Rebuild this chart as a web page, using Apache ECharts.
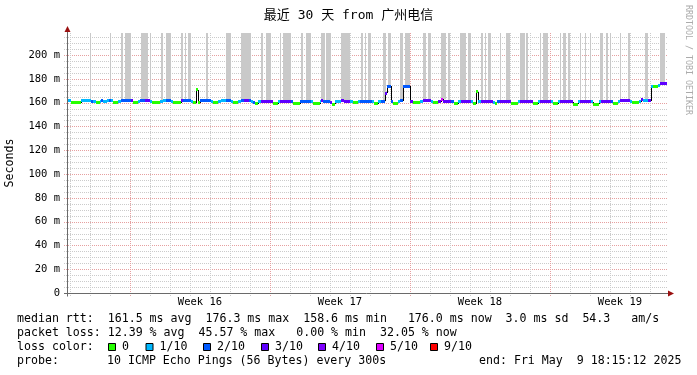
<!DOCTYPE html>
<html><head><meta charset="utf-8">
<script src="https://cdn.jsdelivr.net/npm/echarts@6/dist/echarts.min.js"></script>
<style>html,body{margin:0;padding:0;background:#fff}#c{width:697px;height:375px}</style>
</head><body><div id="c"></div>
<script>
// ---------------- data ----------------
const chartTitle = '最近 30 天 from 广州电信';
const yAxisName = 'Seconds';
const sideText = 'RRDTOOL / TOBI OETIKER';
const xMaxDays = 30;
const yMaxMs = 218.5;
const yLabelStep = 20;
const yMinorStep = 5;
const firstDayLine = 0.15;            // first midnight grid line (days from start)
const weekLines = [3.15, 10.15, 17.15, 24.15];
const weekLabelPos = [6.65, 13.65, 20.65, 27.65];
const weekLabels = ['Week 16', 'Week 17', 'Week 18', 'Week 19'];

// median rtt (ms) as steps: start (days from start), value, lost pings out of 10
const medStart = [0,0.2,0.7,1.2,1.3,1.45,1.65,1.7,1.8,2.0,2.1,2.2,2.3,2.55,2.7,3.2,3.3,3.55,3.65,3.9,4.15,4.25,4.65,4.8,4.95,5.2,5.3,5.7,5.8,6.2,6.3,6.45,6.55,6.65,7.2,7.3,7.55,7.7,7.95,8.2,8.3,8.55,8.7,8.85,9.1,9.2,9.3,9.4,9.55,9.7,10.3,10.55,10.65,11.2,11.3,11.65,12.2,12.3,12.65,12.7,12.8,13.15,13.25,13.4,13.7,13.85,14.15,14.3,14.55,14.65,15.25,15.35,15.55,15.7,15.9,16.0,16.18,16.3,16.55,16.65,16.78,17.15,17.3,17.65,17.8,18.2,18.3,18.55,18.7,18.8,19.2,19.35,19.55,19.7,20.2,20.3,20.43,20.55,20.7,21.3,21.4,21.5,21.65,22.2,22.55,22.65,23.3,23.55,23.65,24.2,24.3,24.55,24.65,25.3,25.55,25.65,26.2,26.3,26.6,26.7,27.2,27.3,27.55,27.65,28.15,28.25,28.6,28.7,28.8,29.05,29.2,29.3,29.55,29.65];
const medValue = [161.5,159.8,161.5,160.7,160.7,159.8,160.7,161.5,160.7,161.5,161.5,161.5,159.8,160.7,161.5,161.5,159.8,160.7,161.5,161.5,160.7,159.8,160.7,161.5,161.5,160.7,159.8,161.5,161.5,160.7,159.8,170.6,159.8,161.5,160.7,159.8,160.7,161.5,161.5,160.7,159.8,160.7,161.5,161.5,161.5,160.7,159.8,159.0,160.7,160.7,159.0,160.7,160.7,160.7,159.0,160.7,160.7,159.0,160.7,161.8,160.7,159.8,158.8,160.7,161.5,160.9,160.7,159.8,160.7,161.0,160.7,159.0,160.7,161.0,168.0,173.7,160.7,159.4,160.7,161.5,173.8,160.9,160.2,160.7,161.8,160.7,159.8,160.9,162.8,161.0,160.7,159.0,160.7,161.3,160.7,159.0,169.0,160.7,161.0,160.3,159.5,160.7,160.9,159.4,160.7,160.7,159.0,160.7,160.7,160.7,159.0,160.7,160.7,158.8,160.7,160.7,160.7,158.8,160.7,161.0,160.7,159.4,160.7,161.8,160.7,159.8,160.7,162.2,161.5,161.5,173.4,173.4,174.5,175.8];
const medLoss = [1,0,1,2,1,0,1,2,1,1,2,1,0,1,2,3,0,1,2,3,1,0,1,1,2,1,0,3,2,1,0,0,0,2,1,0,1,1,2,1,0,1,2,3,2,1,2,0,1,3,0,1,3,2,0,2,1,0,1,3,2,3,0,1,3,3,1,0,1,2,1,0,1,2,3,2,2,0,1,2,2,3,0,1,3,1,0,3,5,3,2,0,1,3,1,0,0,1,3,1,0,2,3,0,1,3,0,1,3,1,0,1,3,0,1,3,1,0,1,3,2,0,1,3,1,0,1,3,1,3,1,0,1,3];

// smoke (ping spread) intervals, days from start; tops exceed the axis
const smokeStart = [1.14,2.14,2.68,2.90,3.70,4.15,4.70,4.95,5.70,5.88,6.05,6.95,7.95,8.70,9.70,9.95,10.65,10.80,11.70,11.95,12.70,12.95,13.70,14.70,14.88,15.05,15.80,16.05,16.65,16.90,17.80,18.05,18.70,19.05,19.65,20.05,20.70,20.88,21.05,21.65,21.95,22.65,22.95,23.65,23.80,24.65,24.80,25.05,25.65,25.88,26.15,26.65,26.95,27.15,27.65,28.05,28.90,29.65];
const smokeEnd   = [1.19,2.19,2.80,3.18,4.05,4.19,4.80,5.20,5.78,5.97,6.20,7.05,8.18,9.20,9.80,10.18,10.70,11.20,11.80,12.18,12.92,13.18,14.15,14.80,14.95,15.18,15.97,16.20,16.80,17.17,17.95,18.20,18.95,19.15,19.95,20.20,20.80,20.97,21.20,21.70,22.15,22.90,23.05,23.70,24.05,24.70,24.95,25.15,25.70,25.93,26.20,26.80,27.05,27.20,27.70,28.15,29.05,29.90];
const smokeTopMs = 260;

// legend
const lossKeys   = [0, 1, 2, 3, 4, 5, 9];
const lossNames  = ['0', '1/10', '2/10', '3/10', '4/10', '5/10', '9/10'];
const lossColors = ['#26ff00', '#00b8ff', '#0059ff', '#5e00ff', '#7e00ff', '#dd00ff', '#ff0000'];
const rttLine   = 'median rtt:  161.5 ms avg  176.3 ms max  158.6 ms min   176.0 ms now  3.0 ms sd  54.3   am/s';
const lossLine  = 'packet loss: 12.39 % avg  45.57 % max   0.00 % min  32.05 % now';
const probeText = '10 ICMP Echo Pings (56 Bytes) every 300s';
const endText   = 'end: Fri May  9 18:15:12 2025';

// ---------------- styles / layout ----------------
const FONT = '"DejaVu Sans Mono", "Noto Sans CJK SC", monospace';
const LEG_FS = 11.6;
const AX_FS = 10.5;
const minorGridColor = '#cbcbcb';
const majorGridColor = '#e6a0a0';
const axisColor = '#6a6a6a';
const arrowColor = '#9a1010';
const smokeColor = '#c9c9c9';

function lossColor(l) { const i = lossKeys.indexOf(l); return lossColors[i < 0 ? 0 : i]; }
function medianAt(t) { let v = medValue[0]; for (let i = 0; i < medStart.length; i++) { if (medStart[i] <= t) v = medValue[i]; } return v; }

const medData = medStart.map((s, i) => [s, i < medStart.length - 1 ? medStart[i + 1] : xMaxDays, medValue[i], medLoss[i]]);
const connData = medStart.slice(1).map((s, i) => [s, medValue[i], medValue[i + 1]]);
const smokeData = smokeStart.map((s, i) => [s, smokeEnd[i], medianAt(s), smokeTopMs]);

const dayLines = [];
for (let d = firstDayLine; d < xMaxDays; d += 1) dayLines.push(+d.toFixed(2));

function csRect(p) { const c = p.coordSys; return { x: c.x, y: c.y, width: c.width, height: c.height }; }

function renderGrid(params, api) {
  const c = csRect(params);
  const ch = [];
  const bottom = c.y + c.height;
  for (let v = yMinorStep; v < yMaxMs; v += yMinorStep) {
    const y = Math.round(api.coord([0, v])[1]) + 0.5;
    const major = (v % yLabelStep === 0);
    ch.push({ type: 'line', shape: { x1: c.x - 3, y1: y, x2: c.x + c.width, y2: y },
      style: { stroke: major ? majorGridColor : minorGridColor, lineWidth: 1, lineDash: [1, 1] } });
  }
  dayLines.forEach(d => {
    const major = weekLines.some(w => Math.abs(w - d) < 1e-6);
    const x = Math.round(api.coord([d, 0])[0]) + 0.5;
    ch.push({ type: 'line', shape: { x1: x, y1: c.y, x2: x, y2: bottom + 3 },
      style: { stroke: major ? majorGridColor : minorGridColor, lineWidth: 1, lineDash: [1, 1] } });
  });
  return { type: 'group', children: ch };
}

function renderAxes(params, api) {
  const c = csRect(params);
  const ch = [];
  const x0 = Math.round(c.x) + 0.5;
  const y0 = Math.round(c.y + c.height) + 0.5;
  const right = c.x + c.width;
  ch.push({ type: 'line', shape: { x1: x0, y1: y0 + 3, x2: x0, y2: c.y - 2 }, style: { stroke: axisColor, lineWidth: 1 } });
  ch.push({ type: 'line', shape: { x1: c.x - 3, y1: y0, x2: right + 2, y2: y0 }, style: { stroke: axisColor, lineWidth: 1 } });
  ch.push({ type: 'polygon', shape: { points: [[x0, c.y - 7], [x0 - 3, c.y - 1], [x0 + 3, c.y - 1]] }, style: { fill: arrowColor } });
  ch.push({ type: 'polygon', shape: { points: [[right + 7, y0], [right + 1, y0 - 3], [right + 1, y0 + 3]] }, style: { fill: arrowColor } });
  return { type: 'group', children: ch };
}

function renderSmoke(params, api) {
  const c = csRect(params);
  const p0 = api.coord([api.value(0), api.value(2)]);
  const p1 = api.coord([api.value(1), api.value(3)]);
  const xa = Math.round(p0[0]), xb = Math.round(p1[0]);
  const r = echarts.graphic.clipRectByRect({ x: xa, y: p1[1], width: Math.max(1, xb - xa), height: p0[1] - p1[1] }, c);
  return r ? { type: 'rect', shape: r, style: { fill: smokeColor } } : null;
}

function renderMedian(params, api) {
  const p0 = api.coord([api.value(0), api.value(2)]);
  const p1 = api.coord([api.value(1), api.value(2)]);
  const xa = Math.round(p0[0]), xb = Math.round(p1[0]);
  const y = Math.round(p0[1] - 1.5);
  return { type: 'rect', shape: { x: xa, y: y, width: Math.max(1, xb - xa), height: 3 }, style: { fill: lossColor(api.value(3)) } };
}

function renderConn(params, api) {
  const a = api.coord([api.value(0), api.value(1)]);
  const b = api.coord([api.value(0), api.value(2)]);
  const x = Math.round(a[0]) + 0.5;
  return { type: 'line', shape: { x1: x, y1: Math.round(a[1]), x2: x, y2: Math.round(b[1]) }, style: { stroke: '#000', lineWidth: 1 } };
}

// legend graphics
const legendRows = [318.5, 333, 347, 361];
const legX = 17;
const boxX = [108, 145.5, 203, 261, 318, 376, 430];
const graphics = [];
function txt(t, x, y) {
  graphics.push({ type: 'text', x: x, y: y, silent: true,
    style: { text: t, fill: '#000', fontSize: LEG_FS, fontFamily: FONT, verticalAlign: 'middle', align: 'left' } });
}
txt(rttLine, legX, legendRows[0]);
txt(lossLine, legX, legendRows[1]);
txt('loss color:', legX, legendRows[2]);
lossNames.forEach((n, i) => {
  graphics.push({ type: 'rect', silent: true, shape: { x: boxX[i] + 0.5, y: legendRows[2] - 3.5, width: 7, height: 7 },
    style: { fill: lossColors[i], stroke: '#000', lineWidth: 1 } });
  txt(n, boxX[i] + 14, legendRows[2]);
});
txt('probe:', legX, legendRows[3]);
txt(probeText, 107, legendRows[3]);
txt(endText, 479, legendRows[3]);
graphics.push({ type: 'text', x: 688, y: 5, rotation: -Math.PI / 2, silent: true,
  style: { text: sideText, fill: '#ababab', fontSize: 8.3, fontFamily: FONT, align: 'left', verticalAlign: 'middle' } });

const chart = echarts.init(document.getElementById('c'), null, { renderer: 'canvas' });
chart.setOption({
  animation: false,
  backgroundColor: '#ffffff',
  title: { text: chartTitle, left: 'center', top: 4,
    textStyle: { fontSize: 13, fontWeight: 'normal', fontFamily: FONT, color: '#000' } },
  grid: { left: 67, right: 30, top: 33, bottom: 82, containLabel: false, outerBoundsMode: 'none' },
  xAxis: { type: 'value', min: 0, max: xMaxDays,
    axisLine: { show: false }, axisTick: { show: false }, splitLine: { show: false },
    axisLabel: { customValues: weekLabelPos, margin: 4, fontSize: AX_FS, fontFamily: FONT, color: '#000',
      formatter: v => { const i = weekLabelPos.findIndex(p => Math.abs(p - v) < 1e-6); return i < 0 ? '' : weekLabels[i]; } } },
  yAxis: { type: 'value', min: 0, max: yMaxMs, interval: yLabelStep,
    name: yAxisName, nameLocation: 'middle', nameGap: 51,
    nameTextStyle: { fontSize: LEG_FS, fontFamily: FONT, color: '#000' },
    axisLine: { show: false }, axisTick: { show: false }, splitLine: { show: false },
    axisLabel: { margin: 7, fontSize: AX_FS, fontFamily: FONT, color: '#000', showMaxLabel: false,
      formatter: v => v === 0 ? '0' : (v + ' m') } },
  graphic: graphics,
  series: [
    { type: 'custom', name: 'grid', data: [[0, 0]], renderItem: renderGrid, clip: false, silent: true, z: 1 },
    { type: 'custom', name: 'smoke', data: smokeData, encode: { x: [0, 1], y: [2, 3] }, renderItem: renderSmoke, silent: true, z: 2 },
    { type: 'custom', name: 'jumps', data: connData, encode: { x: 0, y: [1, 2] }, renderItem: renderConn, silent: true, z: 3 },
    { type: 'custom', name: 'median', data: medData, encode: { x: [0, 1], y: 2 }, renderItem: renderMedian, silent: true, z: 4 },
    { type: 'custom', name: 'axes', data: [[0, 0]], renderItem: renderAxes, clip: false, silent: true, z: 5 }
  ]
});
</script>
</body></html>
